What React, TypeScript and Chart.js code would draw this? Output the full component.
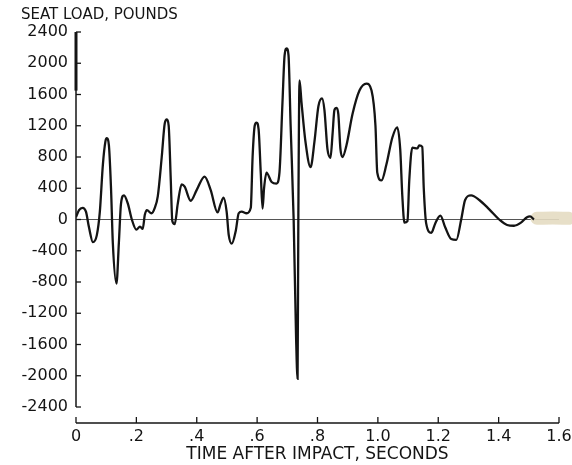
import React, { useEffect, useRef } from 'react';
import { Chart, registerables } from 'chart.js';

Chart.register(...registerables);

// Time after impact, seconds
const times = [
  0, 0.010, 0.022, 0.033, 0.043, 0.056, 0.069, 0.079, 0.089, 0.0975,
  0.102, 0.109, 0.116, 0.122, 0.134, 0.142, 0.149, 0.159, 0.172, 0.185,
  0.200, 0.212, 0.221, 0.228, 0.235, 0.250, 0.261, 0.271, 0.284, 0.294,
  0.301, 0.307, 0.314, 0.319, 0.327, 0.337, 0.350, 0.360, 0.380, 0.400,
  0.426, 0.446, 0.469, 0.479, 0.489, 0.499, 0.506, 0.516, 0.529, 0.539,
  0.549, 0.565, 0.579, 0.585, 0.592, 0.598, 0.605, 0.612, 0.618, 0.623,
  0.631, 0.648, 0.664, 0.674, 0.684, 0.691, 0.698, 0.704, 0.711, 0.721,
  0.729, 0.734, 0.7365, 0.7405, 0.747, 0.760, 0.777, 0.790, 0.803, 0.815,
  0.823, 0.833, 0.843, 0.850, 0.856, 0.863, 0.869, 0.876, 0.883, 0.896,
  0.916, 0.939, 0.962, 0.979, 0.992, 0.998, 1.012, 1.028, 1.048, 1.064,
  1.074, 1.081, 1.088, 1.098, 1.104, 1.114, 1.131, 1.137, 1.147, 1.152,
  1.160, 1.177, 1.190, 1.207, 1.223, 1.243, 1.260, 1.276, 1.289, 1.309,
  1.336, 1.369, 1.402, 1.428, 1.451, 1.474, 1.494, 1.504, 1.517,
];

// Seat load, pounds
const loads = [
  30, 120, 150, 100, -100, -290, -200, 100, 700, 1000,
  1040, 950, 400, -300, -820, -300, 200, 310, 200, 0,
  -130, -90, -120, 60, 120, 80, 150, 300, 800, 1230,
  1280, 1200, 500, -20, -60, 200, 450, 420, 240, 380,
  550, 380, 90, 200, 280, 100, -200, -310, -150, 80,
  100, 80, 150, 800, 1200, 1240, 1150, 600, 140, 400,
  600, 480, 460, 600, 1500, 2100, 2190, 2100, 1200, 0,
  -1500, -2040, 0, 1780, 1500, 1000, 670, 1000, 1450, 1550,
  1400, 900, 790, 1100, 1400, 1430, 1350, 900, 800, 950,
  1350, 1650, 1740, 1650, 1200, 600, 500, 700, 1050, 1180,
  900, 300, -40, -20, 500, 920, 910, 950, 930, 400,
  -50, -170, -50, 50, -100, -250, -260, 0, 250, 310,
  250, 130, 0, -70, -80, -40, 30, 40, 0,
];

// faded smudge at the end of the trace in the scanned original
const smudgeTimes = [1.527, 1.58, 1.632];
const smudgeLoads = [15, 20, 15];

const xTickLabels = ['0', '.2', '.4', '.6', '.8', '1.0', '1.2', '1.4', '1.6'];
const yTickLabels = [
  '-2400', '-2000', '-1600', '-1200', '-800', '-400', '0',
  '400', '800', '1200', '1600', '2000', '2400',
];

const FONT = "'DejaVu Sans', 'Liberation Sans', sans-serif";
const INK = '#141414';

const handAxes = {
  id: 'handAxes',
  beforeDatasetsDraw(chart: any) {
    const { ctx, scales } = chart;
    const x = scales.x;
    const y = scales.y;
    const x0 = x.getPixelForValue(0);
    const x1 = x.getPixelForValue(1.6);
    const yTop = y.getPixelForValue(2400);
    const yBot = y.getPixelForValue(-2400);
    ctx.save();
    ctx.strokeStyle = INK;
    ctx.lineCap = 'butt';
    // y axis
    ctx.lineWidth = 1.5;
    ctx.beginPath();
    ctx.moveTo(x0, yTop);
    ctx.lineTo(x0, yBot);
    ctx.stroke();
    ctx.lineWidth = 3;
    ctx.beginPath();
    ctx.moveTo(x0, yTop);
    ctx.lineTo(x0, y.getPixelForValue(1650));
    ctx.stroke();
    // y ticks (inward)
    ctx.lineWidth = 1.3;
    y.ticks.forEach((t: any) => {
      const py = y.getPixelForValue(t.value);
      ctx.beginPath();
      ctx.moveTo(x0, py);
      ctx.lineTo(x0 + 5, py);
      ctx.stroke();
    });
    // detached x axis
    const axisY = yBot + 16;
    ctx.lineWidth = 1.5;
    ctx.beginPath();
    ctx.moveTo(x0, axisY);
    ctx.lineTo(x1, axisY);
    ctx.stroke();
    ctx.lineWidth = 1.3;
    x.ticks.forEach((t: any) => {
      const px = x.getPixelForValue(t.value);
      ctx.beginPath();
      ctx.moveTo(px, axisY);
      ctx.lineTo(px, axisY - 6);
      ctx.stroke();
    });
    ctx.restore();
  },
};

export default function App() {
  const ref = useRef<HTMLCanvasElement | null>(null);

  useEffect(() => {
    if (!ref.current) return;
    const trace = times.map((t, i) => ({ x: t, y: loads[i] }));
    const smudge = smudgeTimes.map((t, i) => ({ x: t, y: smudgeLoads[i] }));
    const chart = new Chart(ref.current, {
      type: 'line',
      data: {
        datasets: [
          {
            data: trace,
            borderColor: INK,
            borderWidth: 2.3,
            pointRadius: 0,
            cubicInterpolationMode: 'monotone',
            fill: false,
            order: 0,
          },
          {
            data: smudge,
            borderColor: 'rgba(228,220,194,0.9)',
            borderWidth: 13,
            borderCapStyle: 'round',
            pointRadius: 0,
            tension: 0.4,
            fill: false,
            clip: false,
            order: 2,
          } as any,
        ],
      },
      options: {
        responsive: false,
        animation: false,
        devicePixelRatio: 1,
        layout: { padding: { left: 21, right: 13, top: 0, bottom: 0 } },
        plugins: {
          legend: { display: false },
          tooltip: { enabled: false },
          title: {
            display: true,
            text: 'SEAT LOAD, POUNDS',
            align: 'start',
            color: INK,
            font: { family: FONT, size: 15, weight: 'normal' },
            padding: { top: 6, bottom: 8 },
          },
        },
        scales: {
          x: {
            type: 'linear',
            min: 0,
            max: 1.6,
            border: { display: false },
            grid: { display: false, drawTicks: false },
            ticks: {
              stepSize: 0.2,
              autoSkip: false,
              maxRotation: 0,
              padding: 20,
              color: INK,
              font: { family: FONT, size: 16 },
              callback: (v: any) => xTickLabels[Math.round(Number(v) / 0.2)] ?? '',
            },
            title: {
              display: true,
              text: 'TIME AFTER IMPACT, SECONDS',
              color: INK,
              font: { family: FONT, size: 17, weight: 'normal' },
              padding: { top: 0, bottom: 0 },
            },
            afterFit: (s: any) => {
              s.height = 58;
              s.paddingLeft = 0;
              s.paddingRight = 0;
            },
          },
          y: {
            min: -2400,
            max: 2400,
            border: { display: false },
            grid: {
              drawTicks: false,
              lineWidth: 1,
              color: (c: any) => (c.tick && c.tick.value === 0 ? '#555' : 'rgba(0,0,0,0)'),
            },
            ticks: {
              stepSize: 400,
              padding: 8,
              color: INK,
              font: { family: FONT, size: 16 },
              callback: (_v: any, i: number) => yTickLabels[i],
            },
            afterFit: (s: any) => {
              s.width = 55;
            },
          },
        },
      },
      plugins: [handAxes],
    });
    return () => chart.destroy();
  }, []);

  return (
    <div style={{ position: 'absolute', left: 0, top: 0, width: 572, height: 465, background: '#fff' }}>
      <canvas ref={ref} width={572} height={465} style={{ width: 572, height: 465, display: 'block' }} />
    </div>
  );
}
